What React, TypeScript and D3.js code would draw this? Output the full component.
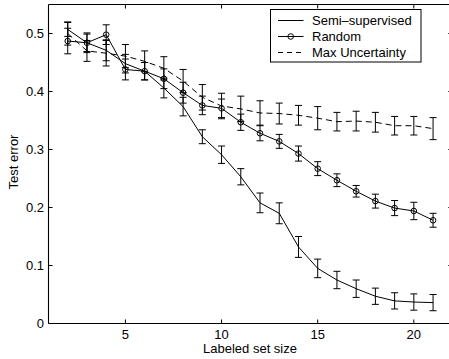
import React from "react";
import * as d3 from "d3";

const sizes = [2, 3, 4, 5, 6, 7, 8, 9, 10, 11, 12, 13, 14, 15, 16, 17, 18, 19, 20, 21];
const semiMean = [0.507, 0.484, 0.471, 0.448, 0.435, 0.406, 0.374, 0.322, 0.291, 0.253, 0.208, 0.19, 0.132, 0.095, 0.075, 0.06, 0.047, 0.039, 0.037, 0.036];
const semiErr = [0.012, 0.015, 0.018, 0.016, 0.015, 0.017, 0.016, 0.012, 0.015, 0.014, 0.017, 0.018, 0.018, 0.016, 0.015, 0.015, 0.014, 0.014, 0.014, 0.014];
const randMean = [0.487, 0.484, 0.498, 0.438, 0.435, 0.422, 0.398, 0.376, 0.371, 0.347, 0.328, 0.314, 0.293, 0.267, 0.247, 0.228, 0.211, 0.199, 0.194, 0.178];
const randErr = [0.022, 0.017, 0.017, 0.018, 0.015, 0.017, 0.018, 0.016, 0.016, 0.014, 0.013, 0.012, 0.013, 0.012, 0.011, 0.010, 0.012, 0.013, 0.015, 0.012];
const maxMean = [0.5, 0.47, 0.466, 0.461, 0.452, 0.44, 0.418, 0.39, 0.375, 0.37, 0.363, 0.362, 0.359, 0.354, 0.348, 0.349, 0.347, 0.341, 0.341, 0.336];
const maxErr = [0.02, 0.018, 0.022, 0.02, 0.018, 0.02, 0.02, 0.022, 0.022, 0.022, 0.021, 0.018, 0.017, 0.02, 0.016, 0.017, 0.017, 0.016, 0.016, 0.019];

const xTicks = [5, 10, 15, 20];
const yTicks = [0, 0.1, 0.2, 0.3, 0.4, 0.5];
const legendLabels = ["Semi\u2013supervised", "Random", "Max Uncertainty"];
const xLabel = "Labeled set size";
const yLabel = "Test error";

const W = 449;
const H = 359;
const left = 48.5;
const right = 452.3;
const top = 4.5;
const bottom = 323.5;
const FONT = "'Liberation Sans', Arial, Helvetica, sans-serif";

export default function App() {
  const x = d3.scaleLinear().domain([1, 22]).range([left, right]);
  const y = d3.scaleLinear().domain([0, 0.55]).range([bottom, top]);
  const line = d3
    .line<[number, number]>()
    .x((d) => x(d[0]))
    .y((d) => y(d[1]));

  const series = [
    { mean: semiMean, err: semiErr, dash: undefined as string | undefined, marker: false },
    { mean: randMean, err: randErr, dash: undefined as string | undefined, marker: true },
    { mean: maxMean, err: maxErr, dash: "6,4", marker: false },
  ];

  const cap = 3.5;
  const tickLen = 4;

  return (
    <svg
      width={W}
      height={H}
      style={{ position: "absolute", left: 0, top: 0, background: "#fff" }}
      fontFamily={FONT}
    >
      <rect x={0} y={0} width={W} height={H} fill="#fff" />
      {/* error bars */}
      {series.map((s, si) => (
        <g key={"eb" + si} stroke="#000" strokeWidth={1} fill="none">
          {sizes.map((sz, i) => {
            const cx = x(sz);
            const y1 = y(s.mean[i] + s.err[i]);
            const y2 = y(s.mean[i] - s.err[i]);
            return (
              <g key={i}>
                <line x1={cx} x2={cx} y1={y1} y2={y2} />
                <line x1={cx - cap} x2={cx + cap} y1={y1} y2={y1} />
                <line x1={cx - cap} x2={cx + cap} y1={y2} y2={y2} />
              </g>
            );
          })}
        </g>
      ))}
      {/* lines */}
      {series.map((s, si) => (
        <path
          key={"ln" + si}
          d={line(sizes.map((sz, i) => [sz, s.mean[i]] as [number, number])) || ""}
          fill="none"
          stroke="#000"
          strokeWidth={1}
          strokeDasharray={s.dash}
        />
      ))}
      {/* markers */}
      {series.map((s, si) =>
        s.marker ? (
          <g key={"mk" + si} fill="none" stroke="#000" strokeWidth={1}>
            {sizes.map((sz, i) => (
              <circle key={i} cx={x(sz)} cy={y(s.mean[i])} r={2.8} />
            ))}
          </g>
        ) : null
      )}
      {/* axes box */}
      <g stroke="#000" strokeWidth={1.1} fill="none">
        <line x1={left} x2={right} y1={bottom} y2={bottom} />
        <line x1={left} x2={right} y1={top} y2={top} />
        <line x1={left} x2={left} y1={top} y2={bottom} />
        <line x1={right} x2={right} y1={top} y2={bottom} />
      </g>
      {/* ticks */}
      <g stroke="#000" strokeWidth={1}>
        {xTicks.map((t) => (
          <g key={"xt" + t}>
            <line x1={x(t)} x2={x(t)} y1={bottom} y2={bottom - tickLen} />
            <line x1={x(t)} x2={x(t)} y1={top} y2={top + tickLen} />
          </g>
        ))}
        {yTicks.map((t) => (
          <g key={"yt" + t}>
            <line x1={left} x2={left + tickLen} y1={y(t)} y2={y(t)} />
            <line x1={right} x2={right - tickLen} y1={y(t)} y2={y(t)} />
          </g>
        ))}
      </g>
      <g fontSize={13} fill="#000">
        {xTicks.map((t) => (
          <text key={"xl" + t} x={x(t)} y={338.5} textAnchor="middle">
            {t}
          </text>
        ))}
        {yTicks.map((t) => (
          <text key={"yl" + t} x={left - 4.5} y={y(t) + 4.7} textAnchor="end">
            {t === 0 ? "0" : t.toFixed(1)}
          </text>
        ))}
        <text x={250} y={352.5} textAnchor="middle">
          {xLabel}
        </text>
        <text
          transform={`translate(17.5, ${(top + bottom) / 2 - 2}) rotate(-90)`}
          textAnchor="middle"
        >
          {yLabel}
        </text>
      </g>
      {/* legend */}
      <g>
        <rect x={270.5} y={9.5} width={150.5} height={52.5} fill="#fff" stroke="#000" strokeWidth={1} />
        {legendLabels.map((lab, i) => {
          const ly = 20.5 + i * 16;
          return (
            <g key={lab}>
              <line
                x1={278}
                x2={303.5}
                y1={ly}
                y2={ly}
                stroke="#000"
                strokeWidth={1}
                strokeDasharray={series[i].dash ? "5,4" : undefined}
              />
              {series[i].marker ? (
                <circle cx={290.7} cy={ly} r={2.8} fill="none" stroke="#000" strokeWidth={1} />
              ) : null}
              <text x={312} y={ly + 4.7} fontSize={13} fill="#000">
                {lab}
              </text>
            </g>
          );
        })}
      </g>
    </svg>
  );
}
